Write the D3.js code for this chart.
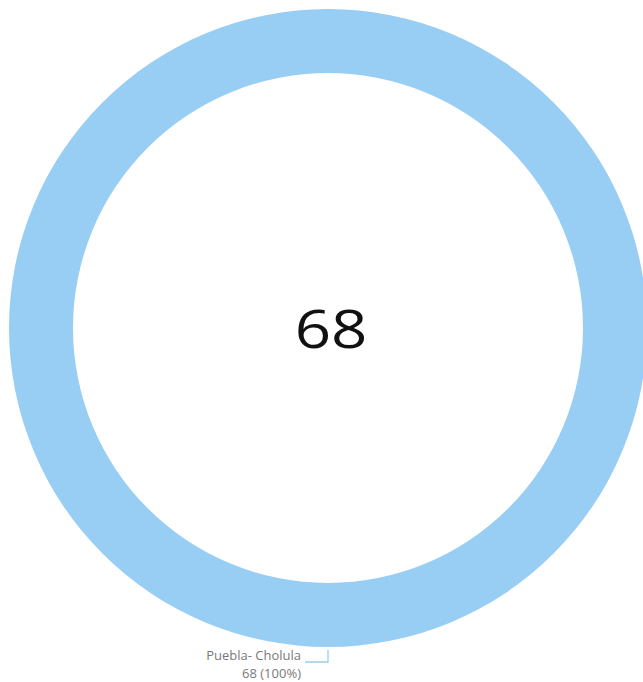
<!DOCTYPE html>
<html>
<head>
<meta charset="utf-8">
<script src="https://cdn.jsdelivr.net/npm/d3@7"></script>
<style>
  body { margin: 0; background: #fff; }
  svg { display: block; }
</style>
</head>
<body>
<div id="chart"></div>
<script>
const categories = ["Puebla- Cholula"];
const values = [68];

const width = 643, height = 682;
const cx = 328, cy = 328;
const outerR = 319, innerR = 255;

const svg = d3.select("#chart")
    .append("svg")
    .attr("width", width)
    .attr("height", height);

const g = svg.append("g")
    .attr("transform", `translate(${cx},${cy})`);

const data = categories.map((c, i) => ({label: c, value: values[i]}));
const total = d3.sum(data, d => d.value);

const colour = d3.scaleOrdinal()
    .domain(categories)
    .range(["#98cdf4"]);

const pie = d3.pie().value(d => d.value).sort(null);
const arc = d3.arc().innerRadius(innerR).outerRadius(outerR);

g.selectAll(".slice")
    .data(pie(data))
    .join("path")
    .attr("class", "slice")
    .attr("d", arc)
    .attr("fill", d => colour(d.data.label));

// total in the middle (the original font is a bit wider, so stretch it)
g.append("text")
    .attr("text-anchor", "middle")
    .attr("transform", "translate(3,20) scale(1.2,1)")
    .attr("font-family", "'Open Sans', sans-serif")
    .attr("font-size", 53)
    .attr("fill", "#111")
    .text(total);

// data label with leader line, below the ring
const labelG = g.append("g");
labelG.append("path")
    .attr("d", `M${-23},${334} H${0} V${322}`)
    .attr("fill", "none")
    .attr("stroke", "#98cdf4")
    .attr("stroke-width", 1.3);

data.forEach(d => {
    labelG.append("text")
        .attr("text-anchor", "end")
        .attr("x", -27).attr("y", 332)
        .attr("font-family", "'Open Sans', sans-serif")
        .attr("font-size", 13)
        .attr("fill", "#7a7a7a")
        .text(d.label);
    labelG.append("text")
        .attr("text-anchor", "end")
        .attr("x", -27).attr("y", 350)
        .attr("font-family", "'Open Sans', sans-serif")
        .attr("font-size", 13)
        .attr("fill", "#7a7a7a")
        .text(`${d.value} (${d3.format(".0%")(d.value / total)})`);
});
</script>
</body>
</html>
